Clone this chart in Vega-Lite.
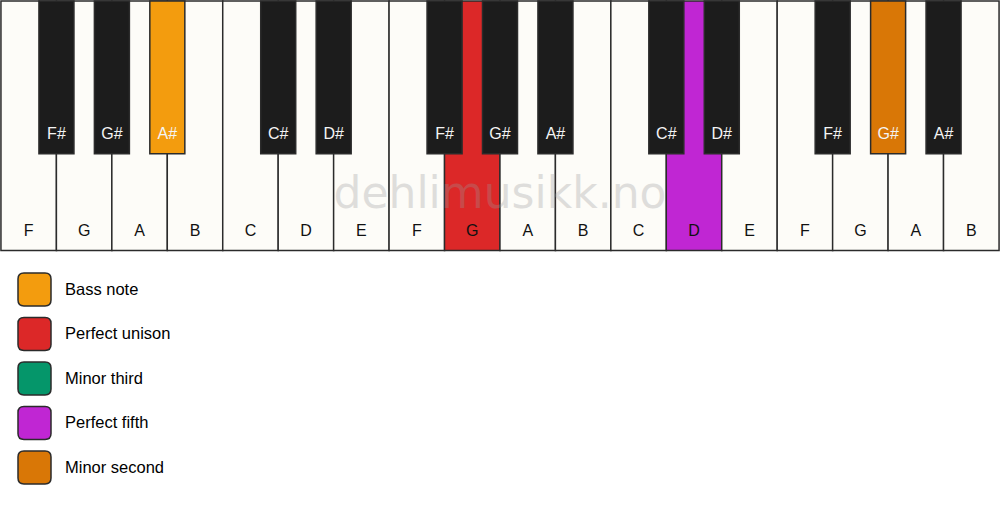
{
  "$schema": "https://vega.github.io/schema/vega-lite/v6.json",
  "width": 1000,
  "height": 506,
  "autosize": {"type": "fit", "contains": "padding"},
  "padding": 0,
  "background": "#ffffff",
  "config": {
    "view": {"stroke": null},
    "font": "Liberation Sans"
  },
  "datasets": {
    "white": [
      {"note": "F", "i": 0, "role": null},
      {"note": "G", "i": 1, "role": null},
      {"note": "A", "i": 2, "role": null},
      {"note": "B", "i": 3, "role": null},
      {"note": "C", "i": 4, "role": null},
      {"note": "D", "i": 5, "role": null},
      {"note": "E", "i": 6, "role": null},
      {"note": "F", "i": 7, "role": null},
      {"note": "G", "i": 8, "role": "Perfect unison"},
      {"note": "A", "i": 9, "role": null},
      {"note": "B", "i": 10, "role": null},
      {"note": "C", "i": 11, "role": null},
      {"note": "D", "i": 12, "role": "Perfect fifth"},
      {"note": "E", "i": 13, "role": null},
      {"note": "F", "i": 14, "role": null},
      {"note": "G", "i": 15, "role": null},
      {"note": "A", "i": 16, "role": null},
      {"note": "B", "i": 17, "role": null}
    ],
    "black": [
      {"note": "F#", "i": 0.5, "role": null},
      {"note": "G#", "i": 1.5, "role": null},
      {"note": "A#", "i": 2.5, "role": "Bass note"},
      {"note": "C#", "i": 4.5, "role": null},
      {"note": "D#", "i": 5.5, "role": null},
      {"note": "F#", "i": 7.5, "role": null},
      {"note": "G#", "i": 8.5, "role": null},
      {"note": "A#", "i": 9.5, "role": null},
      {"note": "C#", "i": 11.5, "role": null},
      {"note": "D#", "i": 12.5, "role": null},
      {"note": "F#", "i": 14.5, "role": null},
      {"note": "G#", "i": 15.5, "role": "Minor second"},
      {"note": "A#", "i": 16.5, "role": null}
    ]
  },
  "layer": [
    {
      "data": {"name": "white"},
      "mark": {"type": "bar", "orient": "vertical", "size": 55.56, "stroke": "#2b2b2b", "strokeWidth": 1.5},
      "encoding": {
        "x": {"field": "i", "type": "quantitative", "scale": {"domain": [-0.5, 17.5], "nice": false, "zero": false, "padding": 0}, "axis": null},
        "y": {"datum": 0, "type": "quantitative", "scale": {"domain": [0, 506], "reverse": true, "nice": false, "zero": false, "padding": 0}, "axis": null},
        "y2": {"datum": 250},
        "fill": {
          "field": "role",
          "type": "nominal",
          "condition": {"test": "datum.role == null", "value": "#fdfcf8"},
          "scale": {
            "domain": ["Bass note", "Perfect unison", "Minor third", "Perfect fifth", "Minor second"],
            "range": ["#f39c0e", "#dc2828", "#05966a", "#c026d3", "#d97706"]
          },
          "legend": {
            "title": null,
            "orient": "none",
            "legendX": 16,
            "legendY": 271,
            "direction": "vertical",
            "symbolType": "M -0.64,-1 L 0.64,-1 Q 1,-1 1,-0.64 L 1,0.64 Q 1,1 0.64,1 L -0.64,1 Q -1,1 -1,0.64 L -1,-0.64 Q -1,-1 -0.64,-1 Z",
            "symbolSize": 1089,
            "symbolStrokeColor": "#222222",
            "symbolStrokeWidth": 1.5,
            "symbolOpacity": 1,
            "labelFontSize": 16.5,
            "labelColor": "#000000",
            "labelOffset": 13,
            "rowPadding": 5.5,
            "labelFont": "Liberation Sans"
          }
        }
      }
    },
    {
      "data": {"name": "white"},
      "mark": {"type": "text", "fontSize": 16, "color": "#111111", "baseline": "middle", "align": "center"},
      "encoding": {
        "x": {"field": "i", "type": "quantitative"},
        "y": {"datum": 230, "type": "quantitative"},
        "text": {"field": "note"}
      }
    },
    {
      "data": {"name": "black"},
      "mark": {"type": "bar", "orient": "vertical", "size": 35, "stroke": "#2b2b2b", "strokeWidth": 1.5},
      "encoding": {
        "x": {"field": "i", "type": "quantitative"},
        "y": {"datum": 0, "type": "quantitative"},
        "y2": {"datum": 153},
        "fill": {
          "field": "role",
          "type": "nominal",
          "condition": {"test": "datum.role == null", "value": "#1c1c1c"}
        }
      }
    },
    {
      "data": {"name": "black"},
      "mark": {"type": "text", "fontSize": 16, "color": "#f4f4f4", "baseline": "middle", "align": "center"},
      "encoding": {
        "x": {"field": "i", "type": "quantitative"},
        "y": {"datum": 133, "type": "quantitative"},
        "text": {"field": "note"}
      }
    },
    {
      "data": {"values": [{"label": "dehlimusikk.no"}]},
      "mark": {"type": "text", "font": "DejaVu Sans", "fontSize": 44, "color": "#999999", "opacity": 0.3, "baseline": "alphabetic", "align": "center"},
      "encoding": {
        "x": {"datum": 8.5, "type": "quantitative"},
        "y": {"datum": 207, "type": "quantitative"},
        "text": {"field": "label"}
      }
    }
  ]
}
